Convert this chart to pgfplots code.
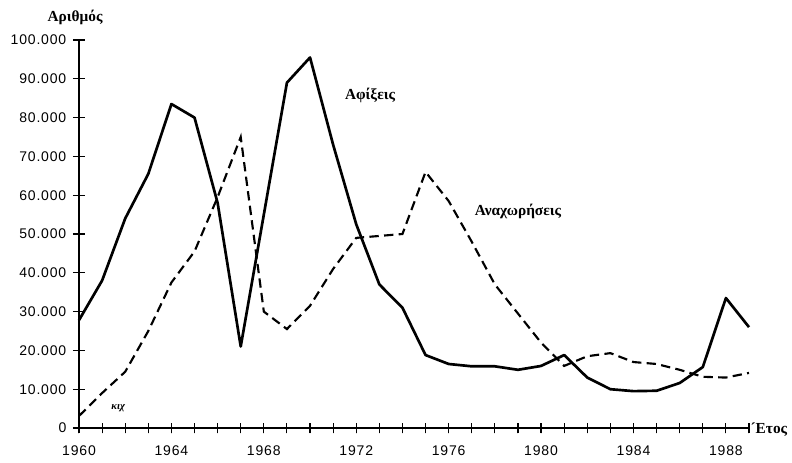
\documentclass[border=0pt]{standalone}
\usepackage{fontspec}
\usepackage{pgfplots}
\pgfplotsset{compat=1.18}
\setmainfont{Liberation Serif}
\newfontfamily\tickfont[LetterSpace=6]{Liberation Sans}
\begin{document}
\begin{tikzpicture}
\begin{axis}[
  at={(0pt,0pt)}, anchor=south west,
  scale only axis,
  width=502.5pt, height=291pt,
  xmin=1960, xmax=1989, ymin=0, ymax=100000,
  axis x line=bottom, axis y line=left,
  axis line style={-, line width=0.8pt},
  clip=false,
  tick align=center,
  major tick length=8pt, minor tick length=8pt,
  tick style={black, line width=0.8pt},
  minor tick style={black, line width=0.8pt},
  xtick={1960,1964,...,1988},
  minor xtick={1960,...,1989},
  xticklabels={1960,1964,1968,1972,1976,1980,1984,1988},
  ytick={0,10000,...,100000},
  yticklabels={0,10.000,20.000,30.000,40.000,50.000,60.000,70.000,80.000,90.000,100.000},
  scaled y ticks=false,
  ticklabel style={font=\tickfont\fontsize{10.5}{12}\selectfont},
  xticklabel style={yshift=-6pt},
  yticklabel style={xshift=-2pt},
]
% Arrivals (solid)
\addplot[black, line width=2pt, line join=round] coordinates {
(1960,27800) (1961,38000) (1962,54000) (1963,65500) (1964,83500) (1965,80000)
(1966,58000) (1967,21000) (1968,55000) (1969,89000) (1970,95500) (1971,73000)
(1972,52500) (1973,37000) (1974,31000) (1975,18800) (1976,16500) (1977,15900)
(1978,15900) (1979,15000) (1980,16000) (1981,18800) (1982,13000) (1983,10000)
(1984,9500) (1985,9600) (1986,11600) (1987,15700) (1988,33500) (1989,26000)
};
% Departures (dashed)
\addplot[black, line width=1.6pt, dash pattern=on 7pt off 4pt] coordinates {
(1960,3100) (1961,9000) (1962,14500) (1963,25000) (1964,37500) (1965,45500)
(1966,59500) (1967,75000) (1968,30000) (1969,25500) (1970,31500) (1971,41000)
(1972,49000) (1973,49500) (1974,50000) (1975,66000) (1976,58500) (1977,48000)
(1978,37000) (1979,29500) (1980,22000) (1981,16000) (1982,18500) (1983,19300)
(1984,17000) (1985,16500) (1986,15000) (1987,13200) (1988,13000) (1989,14200)
};
% tick marks (axis decoration)
\pgfplotsinvokeforeach{1960,1961,1962,1963,1964,1965,1966,1967,1968,1969,1970,1971,1972,1973,1974,1975,1976,1977,1978,1979,1980,1981,1982,1983,1984,1985,1986,1987,1988,1989}{
  \draw[solid, black, line width=0.8pt] (axis cs:#1,0) ++(0pt,-4pt) -- ++(0pt,8pt);
}
\pgfplotsinvokeforeach{0,10,20,30,40,50,60,70,80,90,100}{
  \draw[solid, black, line width=0.8pt] (axis cs:1960,#1000) ++(-4.5pt,0pt) -- ++(9pt,0pt);
}
\node[font=\bfseries\fontsize{11.5}{13}\selectfont] at (axis cs:1959.83,105800) {Αριθμός};
\node[font=\bfseries\fontsize{11.5}{13}\selectfont] at (axis cs:1972.6,85600) {Αφίξεις};
\node[font=\bfseries\fontsize{11.5}{13}\selectfont] at (axis cs:1979.0,55900) {Αναχωρήσεις};
\node[font=\bfseries\itshape\fontsize{8}{9}\selectfont] at (axis cs:1961.7,5200) {κιχ};
\node[font=\bfseries\fontsize{11.5}{13}\selectfont, anchor=west, inner sep=1pt] at (axis cs:1989,-300) {´Ετος};
\end{axis}
\path (-59.25pt,-25.5pt) rectangle (534.75pt,321pt);
\end{tikzpicture}
\end{document}
